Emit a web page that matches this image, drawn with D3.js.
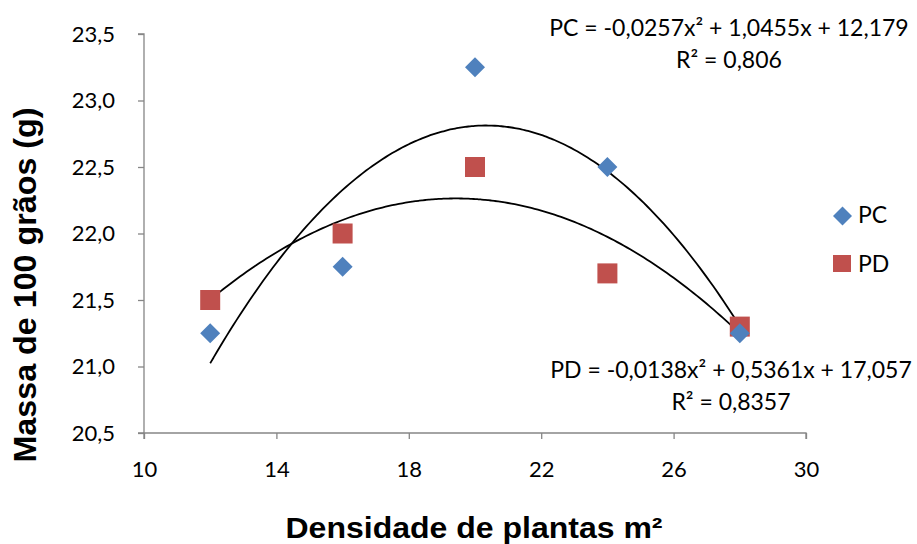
<!DOCTYPE html>
<html>
<head>
<meta charset="utf-8">
<script src="https://cdn.jsdelivr.net/npm/d3@7"></script>
<style>
  html, body { margin: 0; padding: 0; background: #fff; }
  svg { display: block; }
</style>
</head>
<body>
<script>
// Plant density (plants per m²)
const densities = [12, 16, 20, 24, 28];
// Mass of 100 grains (g)
const pcValues = [21.25, 21.75, 23.25, 22.5, 21.25];
const pdValues = [21.5, 22.0, 22.5, 21.7, 21.3];
// Quadratic fits: a·x² + b·x + c
const pcFit = [-0.0257, 1.0455, 12.179];
const pdFit = [-0.0138, 0.5361, 17.057];
const xTicks = [10, 14, 18, 22, 26, 30];
const yTicks = [20.5, 21.0, 21.5, 22.0, 22.5, 23.0, 23.5];
const pcLabel = ["PC = -0,0257x² + 1,0455x + 12,179", "R² = 0,806"];
const pdLabel = ["PD = -0,0138x² + 0,5361x + 17,057", "R² = 0,8357"];

const W = 917, H = 544;
const svg = d3.select("body").append("svg").attr("width", W).attr("height", H);

const x = d3.scaleLinear().domain([10, 30]).range([144, 806]);
const y = d3.scaleLinear().domain([20.5, 23.5]).range([433, 34]);

const axisColor = "#868686";
const textFont = "Lato, 'Open Sans', sans-serif";
const titleFont = "'Liberation Sans', Arial, sans-serif";
const comma = v => d3.format(".1f")(v).replace(".", ",");

// Y axis
const gy = svg.append("g").attr("transform", `translate(${x(10)},0)`)
  .call(d3.axisLeft(y).tickValues(yTicks).tickSize(6).tickPadding(23).tickFormat(comma));
// X axis
const gx = svg.append("g").attr("transform", `translate(0,${y(20.5)})`)
  .call(d3.axisBottom(x).tickValues(xTicks).tickSize(6).tickPadding(22).tickFormat(d3.format("d")));
[gx, gy].forEach(g => {
  g.select(".domain").attr("stroke", axisColor).attr("stroke-width", 1.3);
  g.selectAll(".tick line").attr("stroke", axisColor).attr("stroke-width", 1.3);
  g.selectAll(".tick text").attr("fill", "#000").style("font-family", textFont).style("font-size", "22px");
});
gy.select(".domain").attr("d", `M-6,${y(20.5)}H0V${y(23.5)}H-6`);
gx.select(".domain").attr("d", `M${x(10)},6V0H${x(30)}V6`);

// Trend curves
function curve(fit) {
  const pts = d3.range(12, 28.001, 0.1).map(v => [v, fit[0] * v * v + fit[1] * v + fit[2]]);
  return d3.line().x(d => x(d[0])).y(d => y(d[1])).curve(d3.curveBasis)(pts);
}
svg.append("path").attr("d", curve(pcFit)).attr("fill", "none").attr("stroke", "#000").attr("stroke-width", 1.8);
svg.append("path").attr("d", curve(pdFit)).attr("fill", "none").attr("stroke", "#000").attr("stroke-width", 1.8);

const blue = "#4F81BD", red = "#C0504D";
const diamond = d3.symbol().type(d3.symbolSquare).size(200);

// PD squares
svg.append("g").selectAll("rect").data(densities).join("rect")
  .attr("x", (d) => x(d) - 10).attr("y", (d, i) => y(pdValues[i]) - 10)
  .attr("width", 20).attr("height", 20).attr("fill", red);
// PC diamonds
svg.append("g").selectAll("path").data(densities).join("path")
  .attr("d", diamond)
  .attr("transform", (d, i) => `translate(${x(d)},${y(pcValues[i])}) rotate(45)`)
  .attr("fill", blue);

// Legend
const leg = svg.append("g");
leg.append("path").attr("d", d3.symbol().type(d3.symbolSquare).size(180))
  .attr("transform", "translate(842.5,216) rotate(45)").attr("fill", blue);
leg.append("rect").attr("x", 833).attr("y", 255).attr("width", 18).attr("height", 17).attr("fill", red);
leg.append("text").attr("x", 858).attr("y", 223).text("PC");
leg.append("text").attr("x", 858).attr("y", 272).text("PD");
leg.selectAll("text").style("font-family", textFont).style("font-size", "23px");

// Equation labels
function eqLabel(lines, cx, y0) {
  svg.append("g").selectAll("text").data(lines).join("text")
    .attr("x", cx).attr("y", (d, i) => y0 + i * 32)
    .attr("text-anchor", "middle")
    .style("font-family", textFont).style("font-size", "23px")
    .text(d => d);
}
eqLabel(pcLabel, 729, 36);
eqLabel(pdLabel, 731, 378);

// Axis titles
svg.append("text").attr("x", 474).attr("y", 538).attr("text-anchor", "middle")
  .attr("textLength", 377).attr("lengthAdjust", "spacingAndGlyphs")
  .style("font-family", titleFont).style("font-weight", "bold").style("font-size", "29px")
  .text("Densidade de plantas m²");
svg.append("text").attr("transform", "translate(36,285) rotate(-90)").attr("text-anchor", "middle")
  .attr("textLength", 355).attr("lengthAdjust", "spacingAndGlyphs")
  .style("font-family", titleFont).style("font-weight", "bold").style("font-size", "32px")
  .text("Massa de 100 grãos (g)");
</script>
</body>
</html>
